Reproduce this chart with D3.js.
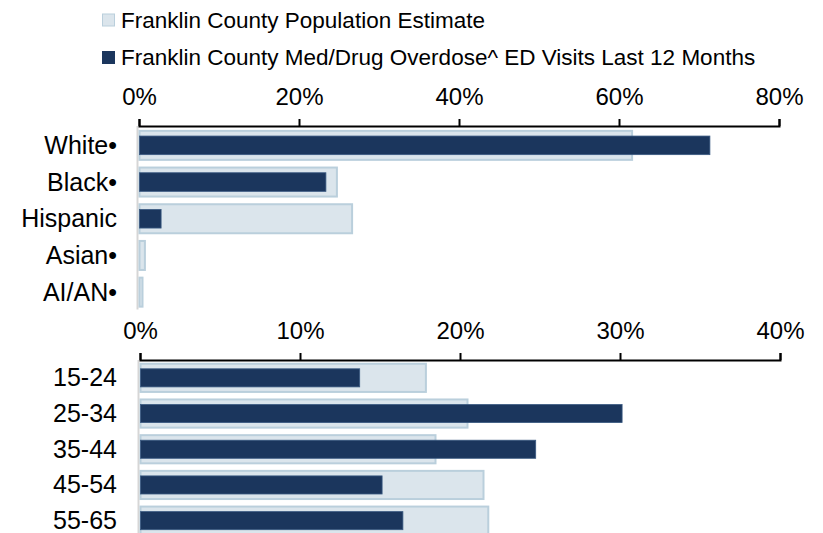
<!DOCTYPE html>
<html>
<head>
<meta charset="utf-8">
<script src="https://cdn.jsdelivr.net/npm/d3@7"></script>
<style>
  html, body { margin: 0; padding: 0; background: #fff; }
  svg { display: block; }
  text { font-family: "Liberation Sans", Arial, sans-serif; fill: #000; }
</style>
</head>
<body>
<svg id="chart" width="823" height="533"></svg>
<script>
// ---- data ----
const seriesNames = ["Franklin County Population Estimate",
                     "Franklin County Med/Drug Overdose^ ED Visits Last 12 Months"];

const raceCategories = ["White•", "Black•", "Hispanic", "Asian•", "AI/AN•"];
const racePopulation = [61.7, 24.8, 26.7, 0.8, 0.5];
const raceOverdose   = [71.3, 23.3, 2.7, 0, 0];
const raceTicks = [0, 20, 40, 60, 80];

const ageCategories = ["15-24", "25-34", "35-44", "45-54", "55-65"];
const agePopulation = [17.9, 20.5, 18.5, 21.5, 21.8];
const ageOverdose   = [13.7, 30.1, 24.7, 15.1, 16.4];
const ageTicks = [0, 10, 20, 30, 40];

// ---- styles ----
const lightFill = "#dbe5ec", lightStroke = "#bacfdc";
const darkFill = "#1b365d", darkStroke = "#3b5a82";

const svg = d3.select("#chart");

// legend
const legend = [
  {name: seriesNames[0], fill: lightFill, stroke: lightStroke, y: 20},
  {name: seriesNames[1], fill: darkFill, stroke: darkFill, y: 57.5}
];
legend.forEach(d => {
  svg.append("rect").attr("x", 102.5).attr("y", d.y - 6).attr("width", 12).attr("height", 12)
    .attr("fill", d.fill).attr("stroke", d.stroke).attr("stroke-width", 1);
  svg.append("text").attr("x", 121).attr("y", d.y + 7.5).attr("font-size", 22.5).text(d.name);
});

function panel(cats, pop, od, ticks, xRange, yRange, axisY) {
  const x = d3.scaleLinear().domain([ticks[0], ticks[ticks.length - 1]]).range(xRange);
  const y = d3.scaleBand().domain(cats).range(yRange).paddingInner(0.155).paddingOuter(0.0775);

  // left gray baseline
  svg.append("line").attr("x1", xRange[0] - 1.5).attr("x2", xRange[0] - 1.5)
    .attr("y1", axisY).attr("y2", yRange[1] - 1)
    .attr("stroke", "#d6d6d6").attr("stroke-width", 2);

  const g = svg.append("g");
  g.selectAll("rect.pop").data(cats).join("rect").attr("class", "pop")
    .attr("x", x(0) + 0.5)
    .attr("y", (c) => y(c) + 1)
    .attr("width", (c, i) => Math.max(0, x(pop[i]) - x(0) - 1))
    .attr("height", y.bandwidth() - 2)
    .attr("fill", lightFill).attr("stroke", lightStroke).attr("stroke-width", 2);

  const dh = y.bandwidth() * 0.6;
  g.selectAll("rect.od").data(cats).join("rect").attr("class", "od")
    .attr("x", x(0) + 0.5)
    .attr("y", (c) => y(c) + (y.bandwidth() - dh) / 2)
    .attr("width", (c, i) => Math.max(0, x(od[i]) - x(0)))
    .attr("height", dh)
    .attr("fill", darkFill).attr("stroke", darkStroke).attr("stroke-width", 0.8)
    .attr("display", (c, i) => od[i] > 0 ? null : "none");

  // category labels
  cats.forEach(c => {
    svg.append("text").attr("x", 117).attr("y", y(c) + y.bandwidth() / 2 + 8.5)
      .attr("text-anchor", "end").attr("font-size", 25).text(c);
  });

  // top axis
  const axis = d3.axisTop(x).tickValues(ticks).tickFormat(d => d + "%")
    .tickSizeInner(7).tickSizeOuter(7).tickPadding(14);
  const ag = svg.append("g").attr("transform", `translate(0,${axisY})`).call(axis);
  ag.select(".domain").attr("stroke", "#000").attr("stroke-width", 2);
  ag.selectAll(".tick line").attr("stroke", "#000").attr("stroke-width", 2);
  ag.selectAll(".tick text").attr("font-size", 24).attr("fill", "#000")
    .attr("font-family", "Liberation Sans, Arial, sans-serif");
}

panel(raceCategories, racePopulation, raceOverdose, raceTicks, [139, 779], [127, 310.5], 126);
panel(ageCategories, agePopulation, ageOverdose, ageTicks, [140, 780], [360, 538.5], 360);
</script>
</body>
</html>
